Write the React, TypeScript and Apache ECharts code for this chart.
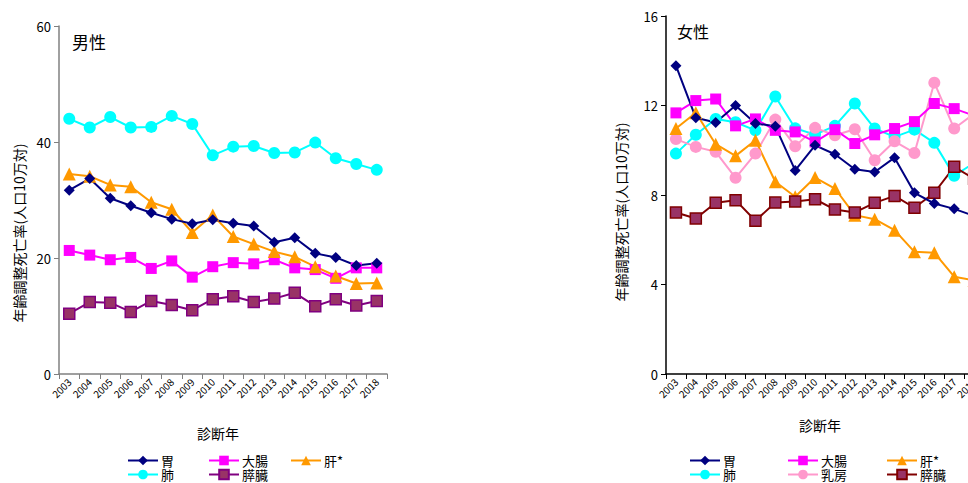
import React, { useEffect, useRef } from "react";
import * as echarts from "echarts";

const years = ["2003","2004","2005","2006","2007","2008","2009","2010","2011","2012","2013","2014","2015","2016","2017","2018"];

// 男性
const mStomach = [31.7,33.7,30.3,29.0,27.8,26.7,25.9,26.6,26.0,25.5,22.7,23.5,20.8,20.1,18.7,19.1];
const mColon = [21.3,20.5,19.7,20.1,18.2,19.5,16.7,18.5,19.2,19.0,19.7,18.3,18.0,16.5,18.3,18.3];
const mLiver = [34.5,34.1,32.6,32.3,29.6,28.4,24.4,27.4,23.7,22.4,21.1,20.2,18.5,16.9,15.6,15.7];
const mLung = [44.0,42.5,44.3,42.5,42.6,44.5,43.1,37.7,39.2,39.3,38.1,38.2,39.9,37.2,36.2,35.2];
const mPancreas = [10.4,12.4,12.3,10.7,12.6,11.9,11.0,12.9,13.4,12.4,13.0,14.0,11.7,12.9,11.8,12.6];

// 女性
const fStomach = [13.78,11.45,11.24,12.0,11.2,11.07,9.1,10.22,9.82,9.15,9.03,9.67,8.1,7.62,7.38,7.07];
const fColon = [11.67,12.22,12.29,11.09,11.4,10.89,10.82,10.37,10.92,10.3,10.69,10.97,11.28,12.09,11.86,11.55];
const fLiver = [10.97,11.68,10.27,9.75,10.45,8.59,7.92,8.78,8.29,7.1,6.92,6.43,5.46,5.42,4.35,4.18];
const fLung = [9.85,10.69,11.4,11.25,10.89,12.4,10.98,10.7,11.09,12.09,10.97,10.6,10.92,10.33,8.86,9.43];
const fBreast = [10.5,10.15,9.93,8.77,9.85,11.37,10.18,11.0,10.67,10.94,9.55,10.4,9.88,13.02,10.97,11.64];
const fPancreas = [7.22,6.95,7.65,7.77,6.85,7.66,7.71,7.81,7.35,7.22,7.65,7.96,7.43,8.1,9.26,8.73];

const maleTicks = { min: 0, max: 60, interval: 20 };
const femaleTicks = { min: 0, max: 16, interval: 4 };

const FONT = "'Noto Sans CJK JP', 'Noto Sans', sans-serif";

function mk(name: string, data: number[], color: string, symbol: string, size: number, idx: number, fill?: string) {
  return {
    name,
    type: "line",
    xAxisIndex: idx,
    yAxisIndex: idx,
    data,
    symbol,
    symbolSize: size,
    lineStyle: { color, width: 2 },
    itemStyle: { color: fill || color, borderColor: color, borderWidth: fill ? 1.5 : 0 },
    emphasis: { disabled: true },
  };
}

function xAxis(idx: number, axisColor: string) {
  return {
    type: "category",
    gridIndex: idx,
    data: years,
    boundaryGap: true,
    axisLine: { lineStyle: { color: axisColor, width: 1.5 } },
    axisTick: { show: true, interval: 0, length: 5, lineStyle: { color: axisColor } },
    axisLabel: { interval: 0, rotate: 45, fontSize: 10, color: "#000", margin: 6, fontFamily: FONT },
    splitLine: { show: false },
  };
}

function yAxis(idx: number, axisColor: string, t: { min: number; max: number; interval: number }) {
  return {
    type: "value",
    gridIndex: idx,
    min: t.min,
    max: t.max,
    interval: t.interval,
    axisLine: { show: true, lineStyle: { color: axisColor, width: 1.5 } },
    axisTick: { show: true, length: 5, lineStyle: { color: axisColor } },
    axisLabel: { fontSize: 13, color: "#000", margin: 8, fontFamily: FONT },
    splitLine: { show: false },
  };
}

function legendCol(data: string[], left: number, top: number) {
  return {
    orient: "vertical",
    left,
    top,
    padding: 0,
    itemWidth: 30,
    itemHeight: 12,
    itemGap: 1,
    data,
    formatter: (n: string) => n.replace(/^f_/, ""),
    textStyle: { fontSize: 13, lineHeight: 13, color: "#000", fontFamily: FONT, padding: [0, 0, 0, -2] },
    selectedMode: false,
  };
}

export default function App() {
  const ref = useRef<HTMLDivElement>(null);
  useEffect(() => {
    if (!ref.current) return;
    const chart = echarts.init(ref.current, undefined, { renderer: "svg" });
    chart.setOption({
      animation: false,
      textStyle: { fontFamily: FONT },
      grid: [
        { left: 59, top: 26, width: 328, height: 348, outerBoundsMode: "none", containLabel: false },
        { left: 666, top: 16, width: 318, height: 358, outerBoundsMode: "none", containLabel: false },
      ],
      xAxis: [xAxis(0, "#808080"), xAxis(1, "#000")],
      yAxis: [yAxis(0, "#808080", maleTicks), yAxis(1, "#000", femaleTicks)],
      legend: [
        legendCol(["胃", "肺"], 127, 454),
        legendCol(["大腸", "膵臓"], 208, 454),
        legendCol(["肝*"], 290, 454),
        legendCol(["f_胃", "f_肺"], 689, 454),
        legendCol(["f_大腸", "f_乳房"], 787, 454),
        legendCol(["f_肝*", "f_膵臓"], 886, 454),
      ],
      graphic: [
        { type: "text", left: 72, top: 33, style: { text: "男性", fontSize: 17, fill: "#000", fontFamily: FONT } },
        { type: "text", left: 677, top: 23, style: { text: "女性", fontSize: 16, fill: "#000", fontFamily: FONT } },
        { type: "text", x: 218, y: 433, style: { text: "診断年", fontSize: 14, fill: "#000", align: "center", verticalAlign: "middle", fontFamily: FONT } },
        { type: "text", x: 820, y: 425, style: { text: "診断年", fontSize: 14, fill: "#000", align: "center", verticalAlign: "middle", fontFamily: FONT } },
        { type: "text", x: 19, y: 233, rotation: Math.PI / 2, style: { text: "年齢調整死亡率(人口10万対)", fontSize: 14, fill: "#000", align: "center", verticalAlign: "middle", fontFamily: FONT } },
        { type: "text", x: 621, y: 212, rotation: Math.PI / 2, style: { text: "年齢調整死亡率(人口10万対)", fontSize: 14, fill: "#000", align: "center", verticalAlign: "middle", fontFamily: FONT } },
      ],
      series: [
        mk("肺", mLung, "#00FFFF", "circle", 12, 0),
        mk("膵臓", mPancreas, "#800080", "rect", 11, 0, "#993366"),
        mk("大腸", mColon, "#FF00FF", "rect", 11, 0),
        mk("肝*", mLiver, "#FF9900", "triangle", 13, 0),
        mk("胃", mStomach, "#000080", "diamond", 11, 0),
        mk("f_肺", fLung, "#00FFFF", "circle", 12, 1),
        mk("f_乳房", fBreast, "#FF99CC", "circle", 12, 1),
        mk("f_大腸", fColon, "#FF00FF", "rect", 11, 1),
        mk("f_肝*", fLiver, "#FF9900", "triangle", 13, 1),
        mk("f_膵臓", fPancreas, "#800000", "rect", 11, 1, "#993366"),
        mk("f_胃", fStomach, "#000080", "diamond", 11, 1),
      ],
    });
    return () => chart.dispose();
  }, []);
  return <div ref={ref} style={{ position: "absolute", left: 0, top: 0, width: 968, height: 483 }} />;
}
